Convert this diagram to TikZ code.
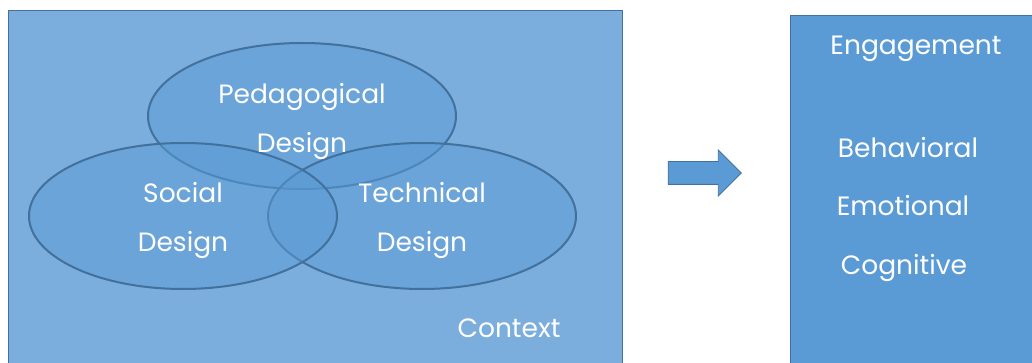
\documentclass[tikz,border=0pt]{standalone}
\usepackage{fontspec}
\setmainfont{Poppins}
\usepackage{tikz}
\usetikzlibrary{shapes.geometric,shapes.arrows}
\definecolor{ctxblue}{HTML}{7CAEDD}
\definecolor{setblue}{HTML}{5B9BD5}
\definecolor{edgeblue}{HTML}{41719C}
\tikzset{
  %Define style for the big boxes
  feld/.style={
    rectangle,
    draw=edgeblue, thick,
    anchor=north west,
    inner sep=0pt},
  %Define style for the design sets
  menge/.style={
    ellipse,
    draw=edgeblue, line width=2pt,
    fill=setblue, fill opacity=0.5,
    minimum width=308pt,
    minimum height=146pt,
    inner sep=0pt},
  % Define style for the labels
  schrift/.style={
    text=white,
    align=center,
    font=\fontsize{26.5}{49}\selectfont},
  % Define arrow style
  pil/.style={
    single arrow,
    draw=edgeblue, thick,
    fill=setblue,
    minimum height=73pt,
    inner sep=11pt,
    single arrow head extend=11.5pt}
}

\begin{document}
\begin{tikzpicture}[x=1pt,y=-1pt]
  \useasboundingbox (0,0) rectangle (1032,363);
  \clip (0,0) rectangle (1032,363);
  \node[feld, fill=ctxblue, minimum width=614pt, minimum height=380pt] (context) at (8,10) {};
  \node[feld, fill=setblue, minimum width=280pt, minimum height=380pt] (engage) at (790,15) {};
  \node[menge] (ped) at (302,116) {};
  \node[menge] (tech) at (422,216) {};
  \node[menge] (soc) at (183,216) {};
  \node[schrift] (pedtext) at ([yshift=-5pt]ped.center) {Pedagogical\\Design};
  \node[schrift] (soctext) at ([yshift=-4pt]soc.center) {Social\\Design};
  \node[schrift] (techtext) at ([yshift=-4pt]tech.center) {Technical\\Design};
  \node[schrift] (ctxtext) at (509,328) {Context};
  \node[pil] (arrow) at (699,173) {};
  \node[schrift] (engtext) at (916,49) {Engagement};
  \node[schrift] (beh) at (908,148) {Behavioral};
  \node[schrift] (emo) at (903,206) {Emotional};
  \node[schrift] (cog) at (904,268) {Cognitive};
\end{tikzpicture}
\end{document}
